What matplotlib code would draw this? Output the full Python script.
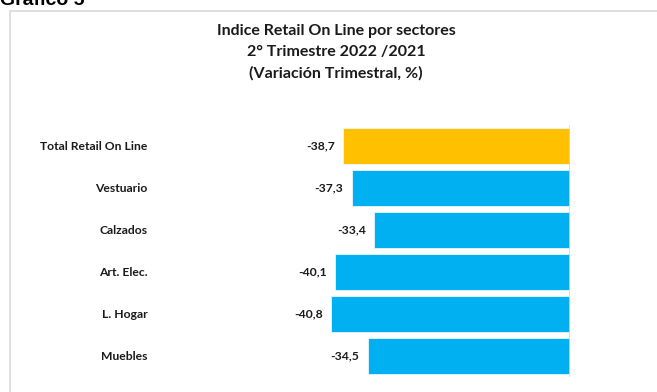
#!/usr/bin/env python3
"""Indice Retail On Line por sectores - horizontal bar chart."""
import matplotlib.pyplot as plt
from matplotlib.patches import Rectangle

categories = ["Total Retail On Line", "Vestuario", "Calzados", "Art. Elec.", "L. Hogar", "Muebles"]
values = [-38.7, -37.3, -33.4, -40.1, -40.8, -34.5]
colors = ["#FFC000", "#00B0F0", "#00B0F0", "#00B0F0", "#00B0F0", "#00B0F0"]
title_lines = ["Indice Retail On Line por sectores", "2° Trimestre 2022 /2021", "(Variación Trimestral, %)"]

plt.rcParams["font.family"] = ["Lato", "DejaVu Sans"]

W, H = 657, 392
fig = plt.figure(figsize=(W / 100, H / 100), dpi=100)

# frame of the chart area (cut at right and bottom)
fig.patches.append(Rectangle((9.5 / W, -0.1), 1.2, 1 - 10.5 / H + 0.1, transform=fig.transFigure,
                             fill=False, edgecolor="#d9d9d9", linewidth=1.2))

fig.text(0.0, 1 - 5 / H, "Gráfico 5", fontsize=14, fontweight="bold",
         family="Liberation Sans", ha="left", va="baseline")

for i, line in enumerate(title_lines):
    fig.text(336 / W, 1 - (31 + 21 * i) / H, line, fontsize=11.5, fontweight="bold",
             ha="center", va="center", color="#1a1a1a")

ax = fig.add_axes([160 / W, 1 - 377 / H, 410 / W, 252 / H])
ypos = list(range(len(categories)))
ax.barh(ypos, values, height=0.88, color=colors, edgecolor="#e8f6fd", linewidth=0.6)
ax.set_xlim(-70, 0)
ax.set_ylim(len(categories) - 0.5, -0.5)
ax.axvline(0, color="#d9d9d9", linewidth=1.2)

for y, v in zip(ypos, values):
    ax.annotate(f"{v:.1f}".replace(".", ","), (v, y), xytext=(-6, 0), textcoords="offset points",
                ha="right", va="center", fontsize=8.7, fontweight="bold", color="#1a1a1a")

ax.set_yticks(ypos)
ax.set_yticklabels(categories, fontsize=8.7, fontweight="bold", color="#1a1a1a")
ax.tick_params(axis="y", length=0, pad=9)
ax.set_xticks([])
for s in ax.spines.values():
    s.set_visible(False)
ax.patch.set_alpha(0)

fig.savefig("out.png", dpi=100)
plt.close(fig)
